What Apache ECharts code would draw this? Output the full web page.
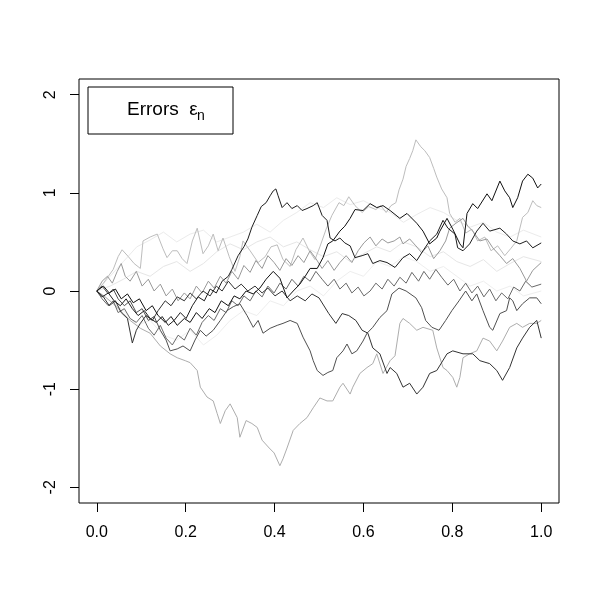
<!DOCTYPE html>
<html><head><meta charset="utf-8">
<script src="https://cdn.jsdelivr.net/npm/echarts@6/dist/echarts.min.js"></script>
<style>html,body{margin:0;padding:0;background:#fff}#c{width:600px;height:600px}</style>
</head><body><div id="c"></div>
<script>
var xTicks = [0, 0.2, 0.4, 0.6, 0.8, 1.0];
var yTicks = [-2, -1, 0, 1, 2];
var legendText = 'Errors';
var legendSym = 'ε';
var legendSub = 'n';

var pathA = [[0,0],[0.012,-0.06],[0.026,-0.02],[0.039,-0.10],[0.053,-0.15],[0.066,-0.08],[0.080,-0.18],[0.093,-0.25],[0.107,-0.20],[0.120,-0.28],[0.134,-0.32],[0.147,-0.26],[0.161,-0.35],[0.174,-0.30],[0.188,-0.22],[0.201,-0.28],[0.215,-0.15],[0.228,-0.06],[0.242,-0.10],[0.255,0.02],[0.269,-0.02],[0.282,0.10],[0.296,0.15],[0.304,0.22],[0.318,0.36],[0.331,0.45],[0.340,0.53],[0.349,0.65],[0.361,0.77],[0.370,0.86],[0.381,0.90],[0.390,0.97],[0.397,1.02],[0.403,1.04],[0.408,0.97],[0.417,0.85],[0.428,0.90],[0.439,0.84],[0.451,0.87],[0.462,0.82],[0.473,0.84],[0.487,0.87],[0.496,0.90],[0.507,0.77],[0.518,0.72],[0.525,0.54],[0.536,0.51],[0.547,0.54],[0.558,0.49],[0.570,0.46],[0.581,0.34],[0.597,0.36],[0.610,0.38],[0.621,0.28],[0.637,0.31],[0.653,0.29],[0.671,0.24],[0.689,0.34],[0.704,0.38],[0.720,0.31],[0.734,0.41],[0.749,0.51],[0.765,0.58],[0.779,0.72],[0.790,0.64],[0.806,0.58],[0.812,0.44],[0.824,0.41],[0.839,0.48],[0.855,0.61],[0.869,0.69],[0.884,0.61],[0.907,0.64],[0.922,0.58],[0.936,0.51],[0.952,0.48],[0.967,0.51],[0.981,0.44],[1.0,0.49]];

var pathB = [[0,0],[0.015,0.05],[0.028,-0.02],[0.042,0.02],[0.055,-0.08],[0.069,-0.03],[0.082,-0.12],[0.096,-0.08],[0.111,-0.20],[0.125,-0.15],[0.138,-0.25],[0.154,-0.32],[0.167,-0.26],[0.181,-0.35],[0.197,-0.28],[0.210,-0.32],[0.224,-0.22],[0.237,-0.28],[0.253,-0.18],[0.266,-0.22],[0.280,-0.10],[0.296,-0.15],[0.309,-0.05],[0.322,-0.08],[0.336,0.00],[0.352,-0.03],[0.367,0.03],[0.381,0.12],[0.397,0.20],[0.412,0.13],[0.428,-0.07],[0.442,0.00],[0.457,0.07],[0.469,0.15],[0.480,0.23],[0.496,0.23],[0.509,0.34],[0.520,0.48],[0.531,0.51],[0.547,0.61],[0.558,0.66],[0.570,0.74],[0.581,0.83],[0.599,0.82],[0.615,0.89],[0.630,0.85],[0.644,0.87],[0.660,0.82],[0.682,0.74],[0.698,0.79],[0.720,0.69],[0.734,0.61],[0.749,0.48],[0.765,0.54],[0.772,0.61],[0.788,0.74],[0.801,0.63],[0.817,0.48],[0.824,0.44],[0.833,0.79],[0.846,0.89],[0.857,0.84],[0.878,0.99],[0.889,0.92],[0.907,1.12],[0.918,1.02],[0.929,0.95],[0.936,0.85],[0.947,0.95],[0.958,1.12],[0.970,1.19],[0.981,1.15],[0.992,1.05],[1.0,1.09]];

var pathC = [[0,0],[0.012,0.05],[0.026,-0.03],[0.037,0.02],[0.048,-0.08],[0.062,-0.15],[0.075,-0.10],[0.089,-0.22],[0.102,-0.18],[0.116,-0.30],[0.129,-0.26],[0.143,-0.40],[0.156,-0.50],[0.165,-0.61],[0.181,-0.59],[0.194,-0.56],[0.210,-0.61],[0.221,-0.50],[0.233,-0.40],[0.246,-0.46],[0.262,-0.40],[0.278,-0.30],[0.293,-0.20],[0.307,-0.16],[0.322,-0.13],[0.338,-0.25],[0.352,-0.37],[0.363,-0.30],[0.374,-0.43],[0.390,-0.38],[0.406,-0.35],[0.419,-0.33],[0.435,-0.30],[0.451,-0.33],[0.464,-0.47],[0.480,-0.61],[0.487,-0.71],[0.496,-0.81],[0.509,-0.86],[0.520,-0.83],[0.531,-0.81],[0.540,-0.68],[0.554,-0.61],[0.563,-0.54],[0.574,-0.64],[0.585,-0.61],[0.599,-0.51],[0.608,-0.43],[0.621,-0.37],[0.637,-0.27],[0.653,-0.20],[0.664,-0.03],[0.680,0.03],[0.696,0.00],[0.718,-0.07],[0.731,-0.17],[0.740,-0.30],[0.754,-0.37],[0.770,-0.40],[0.785,-0.30],[0.799,-0.20],[0.815,-0.10],[0.830,0.00],[0.844,-0.10],[0.855,-0.03],[0.869,-0.20],[0.884,-0.37],[0.891,-0.40],[0.907,-0.23],[0.922,-0.20],[0.929,-0.07],[0.936,-0.10],[0.945,-0.20],[0.958,-0.13],[0.974,-0.07],[0.990,-0.07],[1.0,-0.13]];

var pathD = [[0,0],[0.015,-0.06],[0.028,-0.15],[0.042,-0.10],[0.055,-0.22],[0.069,-0.28],[0.080,-0.53],[0.089,-0.40],[0.098,-0.33],[0.111,-0.25],[0.125,-0.30],[0.138,-0.20],[0.154,-0.10],[0.167,-0.15],[0.181,-0.06],[0.197,-0.10],[0.210,-0.02],[0.224,-0.08],[0.239,0.00],[0.255,-0.05],[0.269,0.05],[0.282,0.00],[0.296,0.10],[0.311,0.02],[0.325,0.07],[0.340,0.00],[0.356,0.05],[0.372,-0.02],[0.385,0.03],[0.401,-0.05],[0.417,0.00],[0.435,-0.10],[0.451,-0.05],[0.469,-0.10],[0.484,-0.03],[0.500,-0.07],[0.522,-0.23],[0.538,-0.33],[0.552,-0.23],[0.567,-0.25],[0.583,-0.30],[0.597,-0.40],[0.610,-0.43],[0.621,-0.58],[0.637,-0.64],[0.653,-0.84],[0.660,-0.78],[0.675,-0.84],[0.689,-0.98],[0.704,-0.94],[0.720,-1.05],[0.734,-0.98],[0.749,-0.84],[0.765,-0.81],[0.788,-0.64],[0.801,-0.61],[0.824,-0.64],[0.846,-0.64],[0.862,-0.71],[0.884,-0.74],[0.900,-0.81],[0.913,-0.91],[0.929,-0.78],[0.945,-0.58],[0.958,-0.48],[0.974,-0.37],[0.990,-0.30],[1.0,-0.48]];

var pathE = [[0,0],[0.015,0.08],[0.026,0.15],[0.037,0.22],[0.048,0.35],[0.057,0.42],[0.071,0.35],[0.084,0.28],[0.098,0.23],[0.104,0.51],[0.120,0.55],[0.136,0.58],[0.149,0.43],[0.158,0.34],[0.170,0.41],[0.181,0.41],[0.192,0.33],[0.203,0.28],[0.215,0.51],[0.226,0.64],[0.239,0.38],[0.251,0.46],[0.262,0.58],[0.273,0.41],[0.284,0.54],[0.298,0.35],[0.311,0.20],[0.322,0.35],[0.329,0.51],[0.345,0.41],[0.363,0.29],[0.379,0.35],[0.392,0.45],[0.406,0.47],[0.419,0.32],[0.435,0.25],[0.448,0.42],[0.464,0.54],[0.478,0.41],[0.491,0.32],[0.502,0.45],[0.516,0.63],[0.529,0.77],[0.545,0.90],[0.556,0.87],[0.567,0.96],[0.581,0.87],[0.597,0.80],[0.612,0.86],[0.628,0.83],[0.639,0.87],[0.651,0.80],[0.662,0.87],[0.673,0.90],[0.680,1.03],[0.689,1.14],[0.696,1.27],[0.704,1.35],[0.711,1.43],[0.718,1.54],[0.722,1.53],[0.729,1.47],[0.738,1.43],[0.749,1.36],[0.758,1.25],[0.765,1.16],[0.776,1.04],[0.788,0.95],[0.794,0.79],[0.806,0.70],[0.817,0.74],[0.830,0.59],[0.844,0.63],[0.857,0.51],[0.873,0.55],[0.887,0.41],[0.902,0.46],[0.918,0.36],[0.931,0.43],[0.945,0.51],[0.958,0.75],[0.970,0.80],[0.981,0.92],[0.990,0.87],[1.0,0.85]];

var pathF = [[0,0],[0.012,0.10],[0.024,0.15],[0.035,0.08],[0.046,0.20],[0.055,0.28],[0.064,0.15],[0.075,0.10],[0.089,0.20],[0.102,0.05],[0.116,0.12],[0.129,0.00],[0.143,0.07],[0.156,-0.05],[0.170,0.02],[0.183,-0.10],[0.197,-0.02],[0.210,-0.08],[0.224,0.05],[0.237,-0.02],[0.251,0.10],[0.264,0.03],[0.278,0.15],[0.291,0.08],[0.304,0.20],[0.318,0.12],[0.331,0.26],[0.345,0.19],[0.358,0.31],[0.372,0.23],[0.385,0.36],[0.399,0.29],[0.412,0.21],[0.426,0.33],[0.439,0.26],[0.453,0.36],[0.466,0.29],[0.480,0.41],[0.493,0.33],[0.507,0.23],[0.520,0.31],[0.534,0.21],[0.547,0.29],[0.561,0.36],[0.574,0.29],[0.588,0.41],[0.601,0.49],[0.615,0.55],[0.628,0.46],[0.642,0.53],[0.655,0.49],[0.669,0.51],[0.682,0.55],[0.689,0.48],[0.704,0.53],[0.718,0.46],[0.731,0.39],[0.745,0.46],[0.758,0.33],[0.772,0.41],[0.785,0.51],[0.794,0.64],[0.808,0.69],[0.824,0.74],[0.835,0.66],[0.846,0.61],[0.862,0.51],[0.878,0.53],[0.891,0.44],[0.907,0.36],[0.922,0.28],[0.936,0.33],[0.952,0.23],[0.967,0.10],[0.981,0.21],[1.0,0.29]];

var pathG = [[0,0],[0.012,-0.08],[0.026,-0.15],[0.037,-0.10],[0.048,-0.22],[0.062,-0.18],[0.075,-0.28],[0.089,-0.32],[0.102,-0.25],[0.116,-0.38],[0.129,-0.45],[0.143,-0.35],[0.156,-0.48],[0.170,-0.55],[0.183,-0.45],[0.197,-0.50],[0.210,-0.38],[0.224,-0.45],[0.237,-0.32],[0.251,-0.25],[0.264,-0.30],[0.278,-0.18],[0.291,-0.22],[0.304,-0.10],[0.318,-0.15],[0.331,-0.05],[0.345,-0.10],[0.358,0.00],[0.372,-0.06],[0.385,0.05],[0.399,-0.02],[0.412,0.08],[0.426,0.02],[0.439,0.12],[0.453,0.05],[0.466,0.15],[0.480,0.10],[0.493,0.20],[0.507,0.12],[0.520,0.05],[0.534,0.12],[0.547,0.02],[0.561,0.08],[0.574,-0.02],[0.588,0.04],[0.601,-0.05],[0.615,0.00],[0.628,0.08],[0.642,0.02],[0.655,0.12],[0.669,0.05],[0.682,0.14],[0.696,0.08],[0.709,0.19],[0.724,0.10],[0.736,0.20],[0.749,0.12],[0.763,0.22],[0.776,0.14],[0.790,0.06],[0.803,0.12],[0.817,0.00],[0.830,0.08],[0.844,-0.02],[0.857,0.05],[0.871,-0.06],[0.884,0.02],[0.898,-0.10],[0.911,-0.02],[0.925,-0.08],[0.938,0.04],[0.952,0.00],[0.965,0.10],[0.979,0.04],[1.0,0.07]];

var pathL = [[0,0],[0.019,-0.06],[0.037,-0.13],[0.060,-0.23],[0.075,-0.30],[0.098,-0.38],[0.120,-0.43],[0.143,-0.56],[0.165,-0.64],[0.181,-0.68],[0.199,-0.71],[0.210,-0.73],[0.226,-0.81],[0.233,-0.98],[0.248,-1.08],[0.262,-1.12],[0.271,-1.25],[0.278,-1.35],[0.289,-1.22],[0.300,-1.15],[0.316,-1.29],[0.322,-1.49],[0.336,-1.32],[0.349,-1.35],[0.361,-1.39],[0.372,-1.52],[0.388,-1.60],[0.399,-1.65],[0.412,-1.78],[0.419,-1.71],[0.428,-1.60],[0.442,-1.42],[0.457,-1.35],[0.473,-1.29],[0.487,-1.19],[0.502,-1.09],[0.518,-1.12],[0.531,-1.12],[0.547,-0.98],[0.554,-0.94],[0.570,-1.05],[0.576,-0.98],[0.592,-0.84],[0.608,-0.78],[0.621,-0.74],[0.630,-0.64],[0.644,-0.84],[0.660,-0.71],[0.671,-0.66],[0.682,-0.33],[0.689,-0.28],[0.704,-0.33],[0.720,-0.40],[0.734,-0.37],[0.756,-0.40],[0.765,-0.58],[0.779,-0.78],[0.788,-0.81],[0.801,-0.88],[0.810,-0.98],[0.817,-0.88],[0.824,-0.68],[0.839,-0.64],[0.855,-0.61],[0.869,-0.48],[0.884,-0.51],[0.900,-0.61],[0.913,-0.51],[0.929,-0.37],[0.945,-0.33],[0.958,-0.37],[0.974,-0.33],[0.990,-0.33],[1.0,-0.30]];

var faint1 = [[0,0],[0.03,0.15],[0.06,0.30],[0.09,0.45],[0.12,0.52],[0.15,0.60],[0.18,0.50],[0.21,0.58],[0.24,0.62],[0.27,0.50],[0.30,0.55],[0.33,0.60],[0.36,0.68],[0.39,0.60],[0.42,0.72],[0.45,0.80],[0.48,0.90],[0.51,0.85],[0.54,0.95],[0.57,0.88],[0.60,0.92],[0.63,0.85],[0.66,0.80],[0.69,0.70],[0.72,0.78],[0.75,0.85],[0.78,0.80],[0.81,0.72],[0.84,0.65],[0.87,0.70],[0.90,0.60],[0.93,0.55],[0.96,0.62],[1.0,0.55]];
var faint2 = [[0,0],[0.03,-0.10],[0.06,-0.20],[0.09,-0.35],[0.12,-0.30],[0.15,-0.45],[0.18,-0.50],[0.21,-0.40],[0.24,-0.55],[0.27,-0.45],[0.30,-0.30],[0.33,-0.20],[0.36,-0.25],[0.39,-0.10],[0.42,-0.15],[0.45,0.00],[0.48,0.05],[0.51,-0.05],[0.54,0.10],[0.57,0.20],[0.60,0.15],[0.63,0.30],[0.66,0.25],[0.69,0.35],[0.72,0.30],[0.75,0.20],[0.78,0.25],[0.81,0.15],[0.84,0.05],[0.87,0.10],[0.90,0.00],[0.93,0.05],[0.96,-0.05],[1.0,0.00]];
var faint3 = [[0,0],[0.03,0.05],[0.06,0.12],[0.09,0.20],[0.12,0.15],[0.15,0.25],[0.18,0.30],[0.21,0.20],[0.24,0.28],[0.27,0.40],[0.30,0.48],[0.33,0.42],[0.36,0.50],[0.39,0.55],[0.42,0.45],[0.45,0.50],[0.48,0.42],[0.51,0.35],[0.54,0.40],[0.57,0.30],[0.60,0.38],[0.63,0.45],[0.66,0.40],[0.69,0.50],[0.72,0.45],[0.75,0.35],[0.78,0.40],[0.81,0.30],[0.84,0.25],[0.87,0.32],[0.90,0.20],[0.93,0.28],[0.96,0.35],[1.0,0.30]];

var paths = [
  {d: faint1, c: '#ebebeb'},
  {d: faint3, c: '#e6e6e6'},
  {d: faint2, c: '#eeeeee'},
  {d: pathE, c: '#bdbdbd'},
  {d: pathL, c: '#adadad'},
  {d: pathF, c: '#999999'},
  {d: pathG, c: '#6a6a6a'},
  {d: pathC, c: '#505050'},
  {d: pathD, c: '#333333'},
  {d: pathA, c: '#1e1e1e'},
  {d: pathB, c: '#111111'}
];

var font = '"Liberation Sans", Arial, Helvetica, sans-serif';
var chart = echarts.init(document.getElementById('c'), null, {renderer: 'canvas'});
chart.setOption({
  animation: false,
  backgroundColor: '#fff',
  grid: {left: 79, top: 79, right: 41, bottom: 97, show: true, borderColor: '#000', borderWidth: 1, backgroundColor: 'transparent'},
  xAxis: {
    type: 'value', min: -0.04, max: 1.04,
    axisLine: {show: false, onZero: false},
    splitLine: {show: false},
    axisTick: {show: true, customValues: xTicks, length: 9, lineStyle: {color: '#000'}},
    axisLabel: {customValues: xTicks, formatter: function (v) { return v.toFixed(1); }, color: '#000', fontSize: 16, fontFamily: font, margin: 22}
  },
  yAxis: {
    type: 'value', min: -2.16, max: 2.16,
    axisLine: {show: false, onZero: false},
    splitLine: {show: false},
    axisTick: {show: true, customValues: yTicks, length: 9, lineStyle: {color: '#000'}},
    axisLabel: {customValues: yTicks, rotate: 90, color: '#000', fontSize: 16, fontFamily: font, margin: 20}
  },
  series: paths.map(function (p) {
    return {type: 'line', data: p.d, showSymbol: false, silent: true, lineStyle: {width: 1, color: p.c}, itemStyle: {color: p.c}};
  }),
  graphic: [
    {type: 'rect', shape: {x: 88, y: 87, width: 145, height: 47}, style: {fill: '#fff', stroke: '#000', lineWidth: 1}, z: 100},
    {type: 'text', x: 127, y: 110, style: {text: legendText + '  ' + legendSym, font: '19px ' + font, fill: '#000', verticalAlign: 'middle'}, z: 101},
    {type: 'text', x: 197, y: 116, style: {text: legendSub, font: '14px ' + font, fill: '#000', verticalAlign: 'middle'}, z: 101}
  ]
});
</script></body></html>
